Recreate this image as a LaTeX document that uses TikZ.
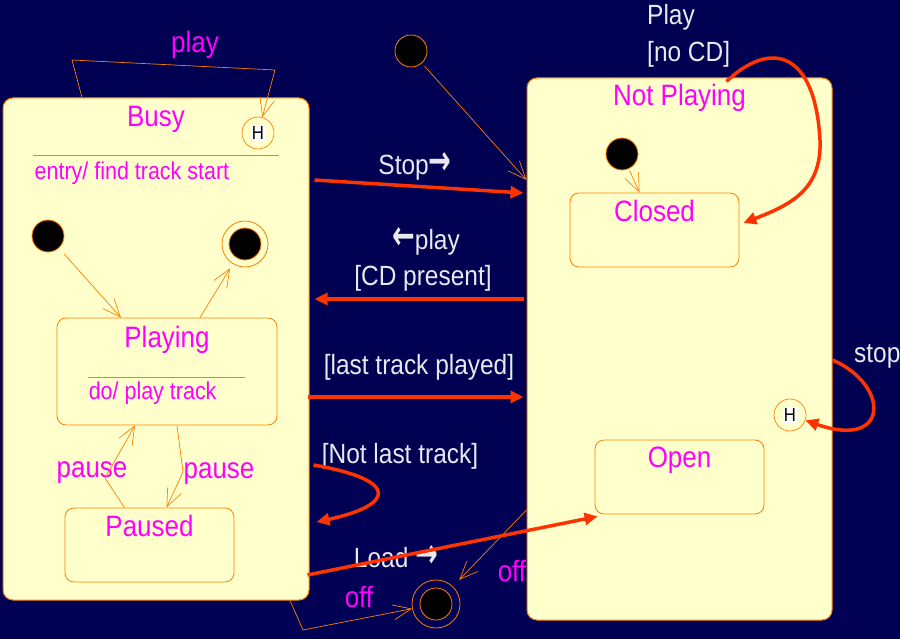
\documentclass[tikz,border=0pt]{standalone}
\usepackage{fontspec}
\setmainfont{Liberation Sans}[FakeStretch=0.88]
\newfontfamily\arrowfont{DejaVu Sans Bold}
\usepackage{tikz}
\usetikzlibrary{positioning}
\usetikzlibrary{calc}
\usetikzlibrary{arrows.meta}

\definecolor{bgtop}{RGB}{0,0,82}
\definecolor{bgmid}{RGB}{0,0,124}
\definecolor{bgbot}{RGB}{0,0,84}
\definecolor{statefill}{RGB}{255,255,204}
\definecolor{stateline}{RGB}{255,128,0}
\definecolor{eventred}{RGB}{255,51,0}
\definecolor{pinktext}{RGB}{255,0,255}
\definecolor{guardgrey}{RGB}{232,232,238}

\newcommand{\histmark}{{\setlength{\fboxsep}{1pt}\colorbox{white}{H}}}
\newcommand{\rarr}{\scalebox{0.8}[1.2]{\arrowfont\fontsize{34}{34}\selectfont →}}
\newcommand{\larr}{\scalebox{0.8}[1.2]{\arrowfont\fontsize{34}{34}\selectfont ←}}

\begin{document}
\begin{tikzpicture}[x=1pt, y=-1pt,
    superstate/.style={draw=stateline, fill=statefill, line width=1pt, rounded corners=10pt, inner sep=0pt},
    substate/.style={draw=stateline, line width=0.8pt, rounded corners=9pt, inner sep=0pt, minimum width=169pt, minimum height=74pt},
    initdot/.style={circle, draw=stateline, fill=black, line width=0.8pt, minimum size=32pt, inner sep=0pt},
    finalring/.style={circle, draw=stateline, line width=0.8pt, minimum size=#1, inner sep=0pt},
    histstate/.style={circle, draw=stateline, line width=0.7pt, minimum size=32pt, inner sep=0pt, font=\fontsize{19}{19}\selectfont},
    nametext/.style={text=pinktext, font=\fontsize{29.5}{32}\selectfont, inner sep=0pt, anchor=base},
    actiontext/.style={text=pinktext, font=\fontsize{24.4}{26}\selectfont, inner sep=0pt, anchor=base west},
    guardtext/.style={text=guardgrey, font=\fontsize{27.8}{30}\selectfont, inner sep=0pt, anchor=base},
    trans/.style={draw=stateline, line width=0.7pt, -{Straight Barb[length=18pt,width=15pt]}},
    event/.style={draw=eventred, line width=3.5pt, -{Triangle[length=13pt,width=12pt]}}]

    \useasboundingbox (0,0) rectangle (900,639);
    \shade[top color=bgtop, middle color=bgmid, bottom color=bgbot] (0,0) rectangle (900,639);

    \node[superstate, minimum width=306pt, minimum height=502pt] (busy) at (156,349) {};
    \node[superstate, minimum width=305pt, minimum height=542pt] (notplaying) at (679.5,349) {};

    \node[substate, minimum width=220pt, minimum height=107pt] (playing) at (167,371.5) {};
    \node[substate] (paused) at (149.5,545) {};
    \node[substate] (closed) at (654.5,230) {};
    \node[substate] (open) at (679.5,477) {};

    \node[initdot] (inittop) at (411,51) {};
    \node[initdot] (initB) at (48,236) {};
    \node[initdot] (initN) at (622,154) {};
    \node[finalring=46pt] (finalB) at (245,244) {};
    \node[initdot] (finalBcore) at (finalB) {};
    \node[finalring=48pt] (finalBot) at (436,604) {};
    \node[initdot] (finalBotcore) at (finalBot) {};
    \node[histstate] (histB) at (258,133) {\histmark};
    \node[histstate] (histN) at (790,415) {\histmark};

    \node[below=29pt of busy.north, nametext] (busylbl) {Busy};
    \node[below=28pt of notplaying.north, nametext] (notplayinglbl) {Not Playing};
    \node[below=30pt of playing.north, nametext] (playinglbl) {Playing};
    \node[below=29pt of paused.north, nametext] (pausedlbl) {Paused};
    \node[below=29pt of closed.north, nametext] (closedlbl) {Closed};
    \node[below=28pt of open.north, nametext] (openlbl) {Open};

    \draw[stateline, line width=0.8pt] ($(busy.north west)+(30,58)$) -- ($(busy.north east)+(-31,58)$);
    \node[actiontext] (entrylbl) at ($(busy.north west)+(32,82)$) {entry/ find track start};
    \draw[stateline, line width=0.8pt] ($(playing.north west)+(31,60)$) -- ($(playing.north east)+(-32,60)$);
    \node[actiontext] (dolbl) at ($(playing.north west)+(32,82)$) {do/ play track};

    \node[nametext] (playlbl) at (195,53) {play};
    \node[nametext] (pauseup) at (92,477) {pause};
    \node[nametext] (pausedown) at (219,478) {pause};
    \node[nametext] (offB) at (359,607) {off};
    \node[nametext] (offN) at (512,581) {off};

    \node[guardtext] (stoplbl) at (415,175) {Stop\rarr};
    \node[guardtext] (backlbl) at (426,250) {\larr play};
    \node[guardtext] (cdlbl) at (423,286) {[CD present]};
    \node[guardtext] (lastlbl) at (419,374) {[last track played]};
    \node[guardtext] (notlastlbl) at (400,463) {[Not last track]};
    \node[guardtext] (loadlbl) at (396,567) {Load \rarr};
    \node[guardtext, anchor=base west] (nocdplay) at (647,25) {Play};
    \node[below=37pt of nocdplay.base west, guardtext, anchor=base west] (nocdlbl) {[no CD]};
    \node[guardtext, anchor=base west] (stopNlbl) at (854,362) {stop};

    \draw[trans, shorten <=4pt] (inittop) -- ($(notplaying.west)+(0,-169)$);
    \draw[trans, shorten <=8pt] (initB) -- ($(playing.north)+(-46,0)$);
    \draw[trans, shorten >=5pt] ($(playing.north)+(33,0)$) -- (finalB);
    \draw[trans, shorten <=2pt] (initN) -- ($(closed.north)+(-15,0)$);
    \draw[trans] ($(paused.north)+(-25,0)$) -- (105,478) -- ($(playing.south)+(-32,0)$);
    \draw[trans] ($(playing.south)+(10,0)$) -- (183,472) -- ($(paused.north)+(17,0)$);
    \draw[trans] ($(busy.north)+(-74,0)$) -- (72,60) -- (275,70) -- (histB);
    \draw[trans] ($(busy.south)+(134,0)$) -- (303,630) -- (finalBot);
    \draw[trans, shorten >=9pt] ($(notplaying.west)+(0,161)$) -- (finalBot);

    \draw[event] ($(busy.east)+(5,-169)$) -- ($(notplaying.west)+(-3,-156)$);
    \draw[event] ($(notplaying.west)+(-3,-50)$) -- ($(busy.east)+(5,-50)$);
    \draw[event] ($(busy.east)+(-2,48)$) -- ($(notplaying.west)+(-3,48)$);
    \draw[event] ($(busy.east)+(4,116)$) .. controls (400,480) and (395,505) .. ($(busy.east)+(7,173)$);
    \draw[event] ($(busy.east)+(-2,226)$) -- ($(open.south west)+(3,2)$);
    \draw[event] ($(notplaying.north)+(47,4)$) .. controls (770,40) and (815,50) .. (820,140)
        .. controls (822,190) and (790,205) .. ($(closed.east)+(4,-7)$);
    \draw[event] ($(notplaying.east)+(0,11)$) .. controls (890,385) and (890,450) .. (histN);

\end{tikzpicture}
\end{document}
